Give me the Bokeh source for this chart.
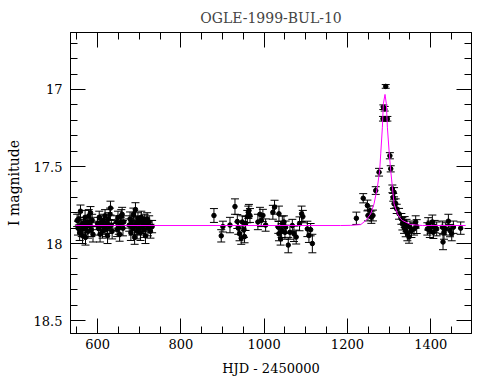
from bokeh.plotting import figure
from bokeh.models import Range1d, LinearAxis, SingleIntervalTicker, CustomJSTickFormatter, ColumnDataSource
from bokeh.embed import file_html
from bokeh.resources import INLINE

# ---- data ----
hjd_s1 = [551, 553, 555, 557, 559, 561, 562, 564, 566, 568, 570, 571, 573, 575, 577, 579, 581, 583, 585, 587, 589,
          600, 602, 604, 606, 608, 610, 612, 614, 616, 618, 620, 622, 624, 626, 628, 630, 631, 633, 635,
          645, 647, 649, 651, 653, 655, 657, 659, 661, 663,
          676, 678, 680, 682, 684, 686, 688, 689, 691, 693, 695, 697, 699, 701, 703, 705, 707, 709, 711, 713,
          715, 717, 719, 721, 724, 727, 731]
mag_s1 = [17.85, 17.90, 17.84, 17.93, 17.79, 17.88, 17.91, 17.95, 17.87, 17.90, 17.83, 17.96, 17.89, 17.86, 17.92,
          17.82, 17.88, 17.80, 17.91, 17.85, 17.94,
          17.87, 17.90, 17.83, 17.94, 17.88, 17.86, 17.92, 17.85, 17.89, 17.82, 17.91, 17.87, 17.95, 17.84, 17.89,
          17.81, 17.77, 17.88, 17.92,
          17.86, 17.91, 17.83, 17.89, 17.94, 17.87, 17.82, 17.81, 17.90, 17.86,
          17.88, 17.84, 17.93, 17.86, 17.90, 17.81, 17.89, 17.96, 17.78, 17.87, 17.92, 17.84, 17.90, 17.86, 17.93,
          17.83, 17.89, 17.87, 17.91, 17.85, 17.95, 17.88, 17.84, 17.90, 17.86, 17.92, 17.89]
err_s1 = [0.04, 0.045, 0.04, 0.05, 0.04, 0.035, 0.045, 0.05, 0.04, 0.04, 0.045, 0.05, 0.04, 0.035, 0.045,
          0.04, 0.05, 0.04, 0.045, 0.04, 0.05,
          0.04, 0.045, 0.04, 0.05, 0.035, 0.04, 0.045, 0.04, 0.05, 0.04, 0.045, 0.04, 0.05, 0.04, 0.045,
          0.04, 0.045, 0.035, 0.05,
          0.04, 0.045, 0.04, 0.05, 0.045, 0.04, 0.04, 0.045, 0.05, 0.04,
          0.04, 0.045, 0.05, 0.04, 0.045, 0.04, 0.05, 0.045, 0.045, 0.04, 0.05, 0.04, 0.045, 0.04, 0.05,
          0.04, 0.045, 0.04, 0.05, 0.04, 0.05, 0.045, 0.04, 0.05, 0.04, 0.045, 0.04]

hjd_s2 = [879.5, 897, 901, 918, 930, 935.6, 938, 941, 945, 947.6, 951.5, 953, 955.5, 959.6, 962, 963.5, 966,
          985, 990, 993, 997, 1003.6, 1021, 1025, 1035.6, 1034, 1035.6, 1039.6, 1042, 1043.7, 1047.6, 1050,
          1051.7, 1058, 1062, 1067.7, 1071.6, 1077, 1085, 1090, 1093, 1103.8, 1107.6, 1111.7, 1115.8]
mag_s2 = [17.818, 17.95, 17.89, 17.88, 17.76, 17.857, 17.90, 17.937, 17.965, 17.86, 17.91, 17.955, 17.87,
          17.825, 17.797, 17.786, 17.818, 17.86, 17.81, 17.85, 17.818, 17.88, 17.797, 17.764, 17.807, 17.894,
          17.937, 17.97, 17.916, 17.872, 17.86, 17.927, 17.894, 18.01, 17.927, 17.883, 17.937, 17.958, 17.872,
          17.807, 17.825, 17.905, 17.948, 17.91, 18.00]
err_s2 = [0.045, 0.04, 0.035, 0.05, 0.05, 0.045, 0.04, 0.045, 0.04, 0.04, 0.05, 0.04, 0.045, 0.04, 0.04, 0.04,
          0.045, 0.05, 0.045, 0.04, 0.04, 0.04, 0.045, 0.045, 0.05, 0.04, 0.045, 0.04, 0.045, 0.05, 0.04, 0.045,
          0.04, 0.05, 0.045, 0.04, 0.05, 0.045, 0.045, 0.05, 0.04, 0.05, 0.045, 0.04, 0.06]

hjd_s3 = [1221.5, 1238, 1248, 1249.4, 1254, 1257.5, 1261.4, 1268, 1276, 1285.4, 1286.3, 1289.5, 1292, 1292,
          1296, 1302, 1304, 1308, 1310, 1312, 1312, 1316, 1318.4, 1324, 1329.6, 1332, 1336, 1337.5, 1340, 1342,
          1344, 1348, 1350, 1353.7, 1360, 1364, 1366.4, 1392, 1394, 1398, 1400, 1404, 1406.4, 1409.6, 1414.4,
          1428, 1429.6, 1432, 1436, 1442.5, 1446.4, 1450.5, 1454.5, 1472]
mag_s3 = [17.836, 17.706, 17.753, 17.818, 17.786, 17.829, 17.818, 17.656, 17.537, 17.19, 17.115, 17.125, 17.19,
          16.98, 17.19, 17.43, 17.515, 17.645, 17.70, 17.667, 17.742, 17.74, 17.775, 17.807, 17.84, 17.872,
          17.894, 17.86, 17.916, 17.883, 17.937, 17.958, 17.894, 17.916, 17.905, 17.86, 17.89, 17.905, 17.872,
          17.916, 17.894, 17.86, 17.927, 17.89, 17.905, 17.894, 17.99, 17.927, 17.905, 17.855, 17.916, 17.937,
          17.894, 17.90]
err_s3 = [0.04, 0.03, 0.035, 0.035, 0.03, 0.04, 0.035, 0.025, 0.025, 0.015, 0.015, 0.015, 0.015, 0.012,
          0.015, 0.02, 0.02, 0.025, 0.025, 0.03, 0.03, 0.03, 0.03, 0.035, 0.035, 0.04, 0.04, 0.035, 0.04, 0.04,
          0.045, 0.04, 0.04, 0.045, 0.04, 0.04, 0.045, 0.04, 0.04, 0.045, 0.04, 0.045, 0.04, 0.04, 0.045,
          0.04, 0.05, 0.045, 0.04, 0.045, 0.04, 0.045, 0.04, 0.04]

fit_hjd = [547, 1184, 1208, 1232, 1244, 1256, 1264, 1272, 1277.5, 1280, 1284, 1286.3, 1290.3, 1293.5, 1296,
           1300, 1304, 1308, 1312, 1320, 1328, 1332, 1352, 1380, 1484]
fit_mag = [17.883, 17.883, 17.882, 17.877, 17.851, 17.807, 17.742, 17.634, 17.526, 17.418, 17.245, 17.093,
           17.032, 17.093, 17.245, 17.396, 17.526, 17.634, 17.742, 17.807, 17.84, 17.85, 17.877, 17.883, 17.883]

x_ticks_step = 200
y_ticks_step = 0.5

# ---- build ----
hjd = hjd_s1 + hjd_s2 + hjd_s3
mag = mag_s1 + mag_s2 + mag_s3
err = err_s1 + err_s2 + err_s3
src = ColumnDataSource(dict(x=hjd, y=mag,
                            lo=[m - e for m, e in zip(mag, err)],
                            hi=[m + e for m, e in zip(mag, err)]))

FONT = "DejaVu Serif"

p = figure(width=483, height=378,
           x_range=Range1d(535, 1498), y_range=Range1d(18.584, 16.63),
           output_backend="svg", toolbar_location=None,
           min_border_left=70, min_border_top=32, min_border_right=12, min_border_bottom=45)
p.background_fill_color = "white"
p.border_fill_color = "white"
p.outline_line_color = "black"
p.xgrid.visible = False
p.ygrid.visible = False

p.title.text = "OGLE-1999-BUL-10"
p.title.align = "center"
p.title.text_font = FONT
p.title.text_font_size = "14px"
p.title.text_font_style = "normal"
p.title.offset = 0
p.title.standoff = 13

xt = SingleIntervalTicker(interval=x_ticks_step, num_minor_ticks=4)
yt = SingleIntervalTicker(interval=y_ticks_step, num_minor_ticks=5)
yfmt = CustomJSTickFormatter(code="return Number(tick.toFixed(2)).toString();")
blank = CustomJSTickFormatter(code="return '';")

def style(ax, labels=True):
    ax.major_tick_in = 15
    ax.major_tick_out = 0
    ax.minor_tick_in = 7
    ax.minor_tick_out = 0
    ax.axis_line_color = "black"
    ax.major_tick_line_color = "black"
    ax.minor_tick_line_color = "black"
    if labels:
        ax.major_label_text_font = FONT
        ax.major_label_text_font_size = "13px"
        ax.major_label_text_color = "black"
        ax.axis_label_text_font = FONT
        ax.axis_label_text_font_style = "normal"
        ax.axis_label_text_color = "black"
    else:
        ax.formatter = blank
        ax.major_label_text_color = None
        ax.major_label_standoff = 0
        ax.axis_label = None

p.xaxis.ticker = xt
p.yaxis.ticker = yt
p.yaxis.formatter = yfmt
style(p.xaxis[0])
style(p.yaxis[0])
p.xaxis.axis_label = "HJD - 2450000"
p.yaxis.axis_label = "I magnitude"
p.xaxis.axis_label_text_font_size = "13px"
p.yaxis.axis_label_text_font_size = "14px"
p.xaxis.major_label_standoff = 5
p.yaxis.major_label_standoff = 8
p.xaxis.axis_label_standoff = 9
p.yaxis.axis_label_standoff = 9

top = LinearAxis(ticker=xt)
style(top, labels=False)
p.add_layout(top, "above")
right = LinearAxis(ticker=yt)
style(right, labels=False)
p.add_layout(right, "right")

# error bars
p.segment(x0="x", y0="lo", x1="x", y1="hi", source=src, line_color="black", line_width=1)
p.scatter(x="x", y="lo", source=src, marker="dash", size=8, line_color="black", line_width=1)
p.scatter(x="x", y="hi", source=src, marker="dash", size=8, line_color="black", line_width=1)
p.scatter(x="x", y="y", source=src, marker="circle", size=4.5, color="black")

# model curve
p.line(fit_hjd, fit_mag, line_color="#ff00ff", line_width=1)

open("out.html", "w").write(file_html(p, INLINE))
